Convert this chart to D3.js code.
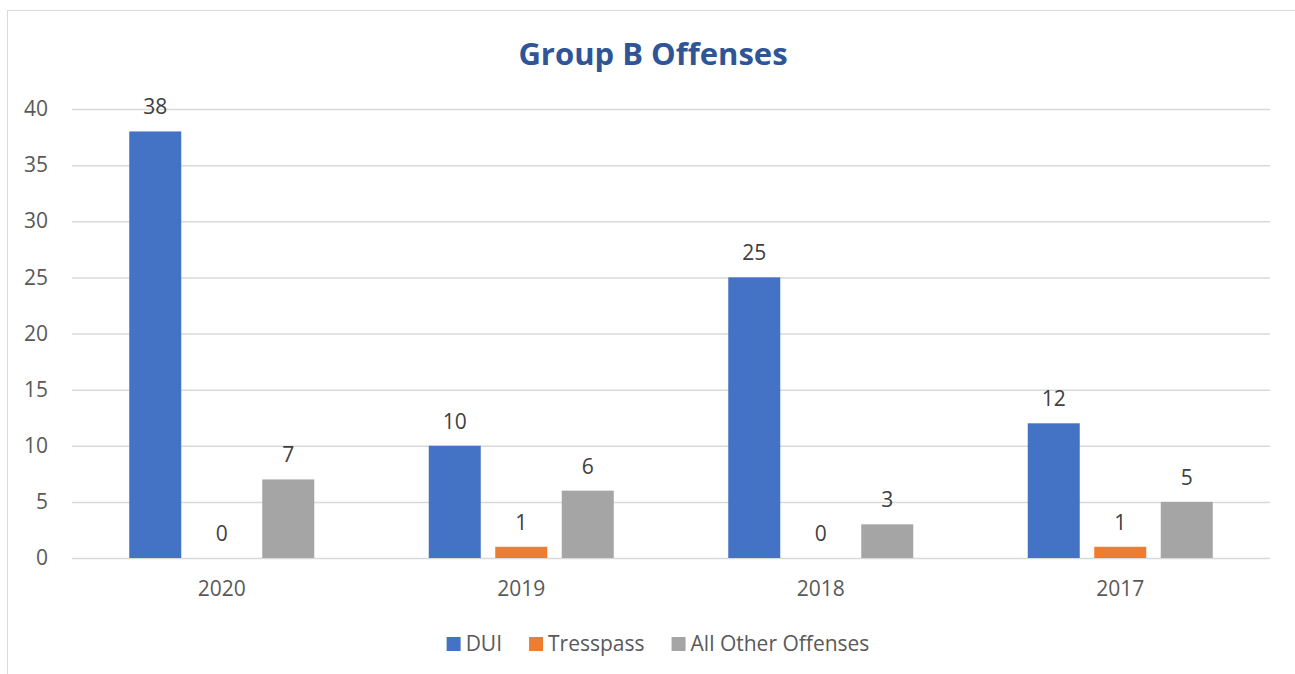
<!DOCTYPE html>
<html>
<head>
<meta charset="utf-8">
<script src="https://cdn.jsdelivr.net/npm/d3@7"></script>
<style>
  body { margin: 0; background: #fff; }
  svg { display: block; font-family: "Open Sans", sans-serif; }
</style>
</head>
<body>
<div id="chart"></div>
<script>
// Chart data
const years = ["2020", "2019", "2018", "2017"];
const seriesNames = ["DUI", "Tresspass", "All Other Offenses"];
const dui = [38, 10, 25, 12];
const tresspass = [0, 1, 0, 1];
const otherOffenses = [7, 6, 3, 5];
const yTicks = [0, 5, 10, 15, 20, 25, 30, 35, 40];
const colors = ["#4472C4", "#ED7D31", "#A5A5A5"];

const seriesValues = [dui, tresspass, otherOffenses];

const width = 1295, height = 674;
const plot = { left: 72, right: 1270, top: 109, bottom: 558 };
const fontSize = 21;

const svg = d3.select("#chart")
    .append("svg")
    .attr("width", width)
    .attr("height", height);

// chart border (only top and left visible)
svg.append("rect")
    .attr("x", 7.5).attr("y", 10.5)
    .attr("width", 1300).attr("height", 700)
    .attr("fill", "none")
    .attr("stroke", "#d9d9d9");

// Title
svg.append("text")
    .attr("x", 653).attr("y", 65)
    .attr("text-anchor", "middle")
    .attr("font-size", 31)
    .attr("font-weight", "bold")
    .attr("fill", "#2F5597")
    .text("Group B Offenses");

// Scales
const x0 = d3.scaleBand()
    .domain(years)
    .range([plot.left, plot.right]);

const groupWidth = 185;
const x1 = d3.scaleBand()
    .domain(seriesNames)
    .range([(x0.bandwidth() - groupWidth) / 2, (x0.bandwidth() + groupWidth) / 2])
    .paddingInner(0.218);

const y = d3.scaleLinear()
    .domain([0, 40])
    .range([plot.bottom, plot.top]);

// Gridlines + y axis
const yAxis = svg.append("g")
    .attr("transform", `translate(${plot.left},0)`)
    .call(d3.axisLeft(y).tickValues(yTicks).tickSize(-(plot.right - plot.left)).tickPadding(24));
yAxis.select(".domain").remove();
yAxis.selectAll(".tick line").attr("stroke", "#d9d9d9").attr("stroke-width", 1.5);
yAxis.selectAll(".tick text")
    .attr("font-size", fontSize)
    .attr("fill", "#595959")
    .attr("font-family", "Open Sans, sans-serif");

// x axis labels
const xAxis = svg.append("g")
    .attr("transform", `translate(0,${plot.bottom})`)
    .call(d3.axisBottom(x0).tickSize(0).tickPadding(23));
xAxis.select(".domain").remove();
xAxis.selectAll(".tick text")
    .attr("font-size", fontSize)
    .attr("fill", "#595959")
    .attr("font-family", "Open Sans, sans-serif");

// Bars
const barData = [];
years.forEach((yr, i) => {
    seriesNames.forEach((s, j) => {
        barData.push({ year: yr, series: s, value: seriesValues[j][i], color: colors[j] });
    });
});

svg.selectAll(".bar")
    .data(barData)
    .enter().append("rect")
    .attr("class", "bar")
    .attr("x", d => x0(d.year) + x1(d.series))
    .attr("y", d => y(d.value))
    .attr("width", x1.bandwidth())
    .attr("height", d => y(0) - y(d.value))
    .attr("fill", d => d.color);

// Data labels
svg.selectAll(".label")
    .data(barData)
    .enter().append("text")
    .attr("class", "label")
    .attr("x", d => x0(d.year) + x1(d.series) + x1.bandwidth() / 2)
    .attr("y", d => y(d.value) - 17)
    .attr("text-anchor", "middle")
    .attr("font-size", fontSize)
    .attr("fill", "#404040")
    .text(d => d.value);

// Legend
const legend = svg.append("g");
let cursor = 0;
seriesNames.forEach((s, j) => {
    const item = legend.append("g").attr("transform", `translate(${cursor},0)`);
    item.append("rect")
        .attr("x", 0).attr("y", -7)
        .attr("width", 14).attr("height", 14)
        .attr("fill", colors[j]);
    const t = item.append("text")
        .attr("x", 19).attr("y", 7)
        .attr("font-size", fontSize)
        .attr("fill", "#595959")
        .text(s);
    cursor += 19 + t.node().getComputedTextLength() + 27;
});
const legendWidth = cursor - 27;
legend.attr("transform", `translate(${658 - legendWidth / 2},644)`);
</script>
</body>
</html>
